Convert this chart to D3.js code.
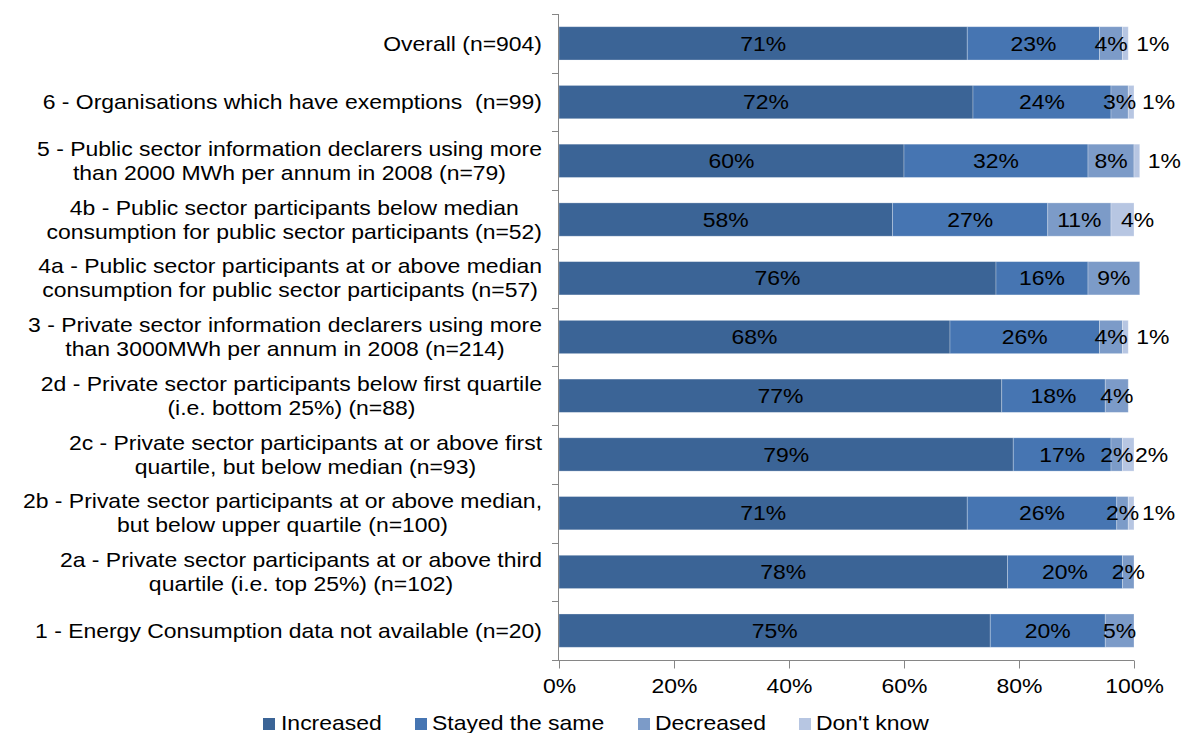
<!DOCTYPE html>
<html>
<head>
<meta charset="utf-8">
<script src="https://cdn.jsdelivr.net/npm/d3@7"></script>
<style>
  html, body { margin: 0; padding: 0; background: #fff; }
  svg { display: block; font-family: "Liberation Sans", Arial, sans-serif; }
  text { white-space: pre; }
</style>
</head>
<body>
<svg id="chart" width="1182" height="733"></svg>
<script>
// Survey groups, top to bottom
const categories = [
  "Overall (n=904)",
  "6 - Organisations which have exemptions  (n=99)",
  "5 - Public sector information declarers using more\nthan 2000 MWh per annum in 2008 (n=79)",
  "4b - Public sector participants below median\nconsumption for public sector participants (n=52)",
  "4a - Public sector participants at or above median\nconsumption for public sector participants (n=57)",
  "3 - Private sector information declarers using more\nthan 3000MWh per annum in 2008 (n=214)",
  "2d - Private sector participants below first quartile\n(i.e. bottom 25%) (n=88)",
  "2c - Private sector participants at or above first\nquartile, but below median (n=93)",
  "2b - Private sector participants at or above median,\nbut below upper quartile (n=100)",
  "2a - Private sector participants at or above third\nquartile (i.e. top 25%) (n=102)",
  "1 - Energy Consumption data not available (n=20)"
];

// Share of respondents (%) in each answer
const increased = [71, 72, 60, 58, 76, 68, 77, 79, 71, 78, 75];
const stayedSame = [23, 24, 32, 27, 16, 26, 18, 17, 26, 20, 20];
const decreased = [4, 3, 8, 11, 9, 4, 4, 2, 2, 2, 5];
const dontKnow = [1, 1, 1, 4, 0, 1, 0, 2, 1, 0, 0];

const seriesNames = ["Increased", "Stayed the same", "Decreased", "Don't know"];
const seriesColors = ["#3b6496", "#4675b2", "#7c9bc8", "#b7c6e2"];
const xTicks = [0, 20, 40, 60, 80, 100];

const FONT = 20.5;   // label size
const SX = 1.12;     // horizontal text stretch

const svg = d3.select("#chart");

const rows = categories.map((c, i) => ({
  category: c,
  values: [increased[i], stayedSame[i], decreased[i], dontKnow[i]]
}));

const x = d3.scaleLinear().domain([0, 100]).range([559, 1134]);
const y = d3.scaleBand()
  .domain(categories)
  .range([14, 660])
  .paddingInner(0.433)
  .paddingOuter(0.2165);

const color = d3.scaleOrdinal().domain(seriesNames).range(seriesColors);

function stretchedText(parent, tx, ty, str, anchor) {
  return parent.append("text")
    .attr("transform", `translate(${tx},${ty}) scale(${SX},1)`)
    .attr("text-anchor", anchor)
    .attr("dy", "0.35em")
    .attr("font-size", FONT)
    .attr("fill", "#000")
    .text(str);
}

// Stacked segments
const segs = [];
rows.forEach(r => {
  let acc = 0;
  r.values.forEach((v, k) => {
    segs.push({ category: r.category, series: seriesNames[k], k, value: v, x0: acc, x1: acc + v });
    acc += v;
  });
});

const barG = svg.append("g");
barG.selectAll("rect")
  .data(segs.filter(d => d.value > 0))
  .join("rect")
  .attr("x", d => x(d.x0))
  .attr("y", d => y(d.category))
  .attr("width", d => x(d.x1) - x(d.x0))
  .attr("height", y.bandwidth())
  .attr("fill", d => color(d.series))
  .attr("stroke", "#ffffff")
  .attr("stroke-opacity", 0.35)
  .attr("stroke-width", 0.8);

// Y axis line with ticks at band boundaries
const axisColor = "#868686";
const axG = svg.append("g").attr("stroke", axisColor).attr("stroke-width", 1);
const [yTop, yBottom] = y.range();
axG.append("line")
  .attr("x1", x(0) - 0.5).attr("x2", x(0) - 0.5)
  .attr("y1", yTop).attr("y2", yBottom);
d3.range(categories.length + 1).forEach(i => {
  const yy = Math.round(yTop + i * y.step()) + 0.5;
  axG.append("line")
    .attr("x1", x(0) - 7).attr("x2", x(0))
    .attr("y1", yy).attr("y2", yy);
});

// X axis
const xAxis = svg.append("g")
  .attr("transform", `translate(0,${yBottom + 0.5})`)
  .call(d3.axisBottom(x).tickValues(xTicks).tickFormat(d => d + "%")
    .tickSizeInner(8).tickSizeOuter(0).tickPadding(10));
xAxis.select(".domain").attr("stroke", axisColor).attr("d", `M${x(0) - 6},0H${x(100)}`);
xAxis.selectAll(".tick line").attr("stroke", axisColor);
xAxis.selectAll(".tick text")
  .attr("font-family", "Liberation Sans, Arial, sans-serif")
  .attr("font-size", FONT)
  .attr("fill", "#000")
  .attr("transform", `scale(${SX},1)`);

// Category labels: lines centred on each other, block right-aligned to the axis
const catG = svg.append("g");
const labelRight = 542;
rows.forEach(r => {
  const lines = r.category.split("\n");
  const cy = y(r.category) + y.bandwidth() / 2;
  const lh = 24;
  const nodes = lines.map((ln, j) =>
    stretchedText(catG, 0, cy + (j - (lines.length - 1) / 2) * lh, ln, "middle"));
  const maxW = d3.max(nodes, n => n.node().getComputedTextLength() * SX);
  const cx = labelRight - maxW / 2;
  nodes.forEach((n, j) => {
    n.attr("transform",
      `translate(${cx},${cy + (j - (lines.length - 1) / 2) * lh}) scale(${SX},1)`);
  });
});

// Value labels
const lblG = svg.append("g");
segs.filter(d => d.value > 0).forEach(d => {
  const cy = y(d.category) + y.bandwidth() / 2;
  if (d.k === 3) {
    // small "don't know" share sits just past the end of the bar
    const nudge = 15 - 7 * d.value;
    stretchedText(lblG, x(d.x1) + nudge, cy, d.value + "%", "start");
  } else {
    stretchedText(lblG, x((d.x0 + d.x1) / 2), cy, d.value + "%", "middle");
  }
});

// Legend
const legG = svg.append("g");
const legItems = [
  { name: seriesNames[0], sq: 263, tx: 281 },
  { name: seriesNames[1], sq: 415, tx: 432 },
  { name: seriesNames[2], sq: 638, tx: 655 },
  { name: seriesNames[3], sq: 799, tx: 816 }
];
legItems.forEach(it => {
  legG.append("rect")
    .attr("x", it.sq).attr("y", 718)
    .attr("width", 12).attr("height", 12)
    .attr("fill", color(it.name));
  stretchedText(legG, it.tx, 722.5, it.name, "start");
});
</script>
</body>
</html>
